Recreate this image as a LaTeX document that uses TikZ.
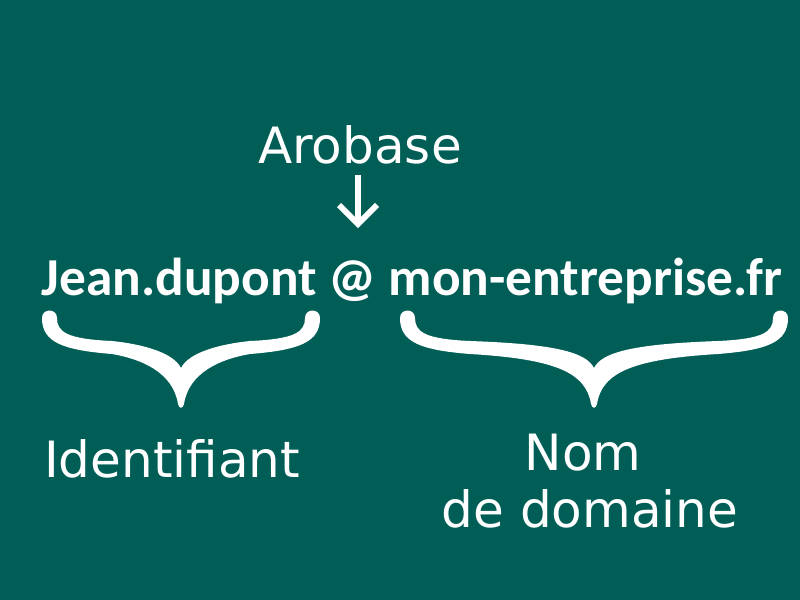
\documentclass[tikz,border=0pt]{standalone}
\usepackage{fontspec}
\setmainfont{DejaVu Sans}
\newfontfamily\mailfont{Carlito}
\usetikzlibrary{calc}
\definecolor{bgteal}{RGB}{0,94,87}
\newcommand{\bracefill}[2]{%
  \fill[white] ({#1-#2},318)
    .. controls ({#1-#2},342) and ({#1-#2+20},350) .. ({#1-#2+70},354)
    .. controls ({#1-40},359) and ({#1-8},372) .. ({#1-3},404)
    .. controls ({#1-2},409) and ({#1+2},409) .. ({#1+3},404)
    .. controls ({#1+8},372) and ({#1+40},359) .. ({#1+#2-70},354)
    .. controls ({#1+#2-20},350) and ({#1+#2},342) .. ({#1+#2},318)
    .. controls ({#1+#2},308) and ({#1+#2-15},308) .. ({#1+#2-15},318)
    .. controls ({#1+#2-15},332) and ({#1+#2-25},339) .. ({#1+#2-70},341)
    .. controls ({#1+40},344) and ({#1+8},352) .. ({#1},368)
    .. controls ({#1-8},352) and ({#1-40},344) .. ({#1-#2+70},341)
    .. controls ({#1-#2+25},339) and ({#1-#2+15},332) .. ({#1-#2+15},318)
    .. controls ({#1-#2+15},308) and ({#1-#2},308) .. ({#1-#2},318) -- cycle;}
\begin{document}
\begin{tikzpicture}[x=0.75pt,y=-0.75pt,
  lbl/.style={text=white,font=\fontsize{37.5pt}{43.5pt}\selectfont,inner sep=0pt,anchor=base},
  mail/.style={text=white,font=\mailfont\bfseries\fontsize{40pt}{46pt}\selectfont,inner sep=0pt,anchor=base},
  arrowline/.style={white,line width=4.5pt}]
\fill[bgteal] (0,0) rectangle (800,600);
\useasboundingbox (0,0) rectangle (800,600);
\node[lbl] (arobase) at (360,163) {Arobase};
\node[mail] (email) at (412,295) {Jean.dupont @ mon-entreprise.fr};
\coordinate (arrS) at (358,175);
\coordinate (arrE) at (358,224);
\draw[arrowline] (arrS) -- (arrE);
\draw[arrowline,line join=miter] ($(arrE)+(-19,-19)$) -- (arrE) -- ($(arrE)+(19,-19)$);
\bracefill{181}{139}
\bracefill{594}{194}
\node[lbl] (ident) at (172,477) {Identifiant};
\node[lbl] (nom) at (583,470) {Nom};
\node[lbl] (domaine) at (590,527) {de domaine};
\end{tikzpicture}
\end{document}
